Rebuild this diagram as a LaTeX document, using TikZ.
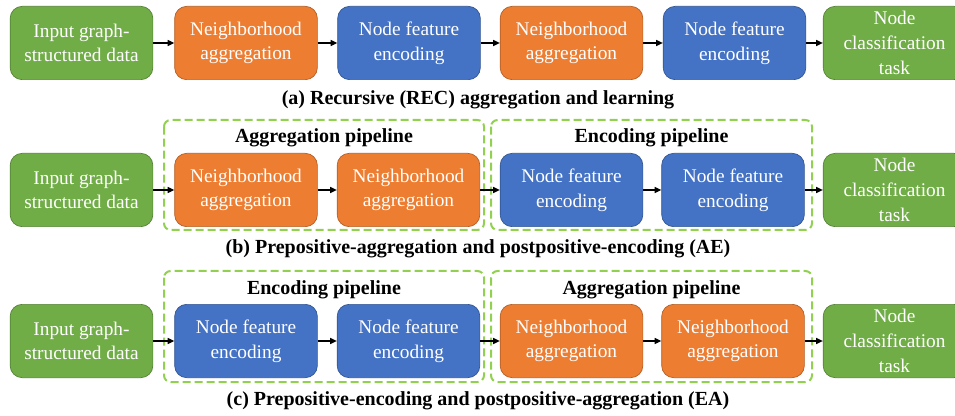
\documentclass[tikz,border=0pt]{standalone}
\usepackage{fontspec}
\setmainfont{Liberation Serif}[BoldFont={Liberation Serif Bold}]
\newfontfamily\timesfont{Liberation Serif}
\usetikzlibrary{arrows.meta, positioning}
\definecolor{boxgreen}{HTML}{70AD47}
\definecolor{boxorange}{HTML}{ED7D31}
\definecolor{boxblue}{HTML}{4472C4}
\definecolor{pipegreen}{HTML}{92D050}

\begin{document}
\begin{tikzpicture}[x=0.75pt, y=-0.75pt,
    block/.style={rounded corners=9pt, minimum width=107pt, minimum height=55pt, align=center,
        text=white, inner sep=2pt, line width=0.5pt, font=\timesfont\fontsize{14.5}{18.5}\selectfont},
    inblock/.style={block, fill=boxgreen, draw=boxgreen!75!black},
    aggblock/.style={block, fill=boxorange, draw=boxorange!75!black},
    encblock/.style={block, fill=boxblue, draw=boxblue!75!black},
    flow/.style={-{Triangle[length=5pt, width=4.5pt]}, line width=0.9pt},
    pipe/.style={draw=pipegreen, line width=1.5pt, rounded corners=5pt, dash pattern=on 6pt off 3pt},
    caption/.style={font=\timesfont\bfseries\fontsize{15}{17}\selectfont}]
    \useasboundingbox (0,0) rectangle (955,416);

    % (a) Recursive
    \node[inblock] (ina) at (81.5,43) {Input graph-\\structured data};
    \node[aggblock] (agga1) at (246,43) {Neighborhood\\aggregation};
    \node[encblock] (enca1) at (409,43) {Node feature\\encoding};
    \node[aggblock] (agga2) at (571.5,43) {Neighborhood\\aggregation};
    \node[encblock] (enca2) at (734.5,43) {Node feature\\encoding};
    \node[inblock] (taska) at (894.5,43) {Node\\classification\\task};
    \draw[flow] (ina) -- (agga1);
    \draw[flow] (agga1) -- (enca1);
    \draw[flow] (enca1) -- (agga2);
    \draw[flow] (agga2) -- (enca2);
    \draw[flow] (enca2) -- (taska);
    \node[caption] (capa) at (478,100) {(a) Recursive (REC) aggregation and learning};

    % (b) AE
    \draw[pipe] (164,120) rectangle (484,230);
    \draw[pipe] (491,120) rectangle (812,230);
    \node[caption] (pipeb1) at (324,138) {Aggregation pipeline};
    \node[caption] (pipeb2) at (651.5,138) {Encoding pipeline};
    \node[inblock] (inb) at (81.5,190) {Input graph-\\structured data};
    \node[aggblock] (aggb1) at (246,190) {Neighborhood\\aggregation};
    \node[aggblock] (aggb2) at (408.5,190) {Neighborhood\\aggregation};
    \node[encblock] (encb1) at (571.5,190) {Node feature\\encoding};
    \node[encblock] (encb2) at (733,190) {Node feature\\encoding};
    \node[inblock] (taskb) at (894.5,190) {Node\\classification\\task};
    \draw[flow] (inb) -- (aggb1);
    \draw[flow] (aggb1) -- (aggb2);
    \draw[flow] (aggb2) -- (encb1);
    \draw[flow] (encb1) -- (encb2);
    \draw[flow] (encb2) -- (taskb);
    \node[caption] (capb) at (478,249) {(b) Prepositive-aggregation and postpositive-encoding (AE)};

    % (c) EA
    \draw[pipe] (164,271) rectangle (484,382);
    \draw[pipe] (491,271) rectangle (812,382);
    \node[caption] (pipec1) at (324,290) {Encoding pipeline};
    \node[caption] (pipec2) at (651.5,290) {Aggregation pipeline};
    \node[inblock] (inc) at (81.5,341) {Input graph-\\structured data};
    \node[encblock] (encc1) at (246,341) {Node feature\\encoding};
    \node[encblock] (encc2) at (408.5,341) {Node feature\\encoding};
    \node[aggblock] (aggc1) at (571.5,341) {Neighborhood\\aggregation};
    \node[aggblock] (aggc2) at (733,341) {Neighborhood\\aggregation};
    \node[inblock] (taskc) at (894.5,341) {Node\\classification\\task};
    \draw[flow] (inc) -- (encc1);
    \draw[flow] (encc1) -- (encc2);
    \draw[flow] (encc2) -- (aggc1);
    \draw[flow] (aggc1) -- (aggc2);
    \draw[flow] (aggc2) -- (taskc);
    \node[caption] (capc) at (478,401) {(c) Prepositive-encoding and postpositive-aggregation (EA)};
\end{tikzpicture}
\end{document}
